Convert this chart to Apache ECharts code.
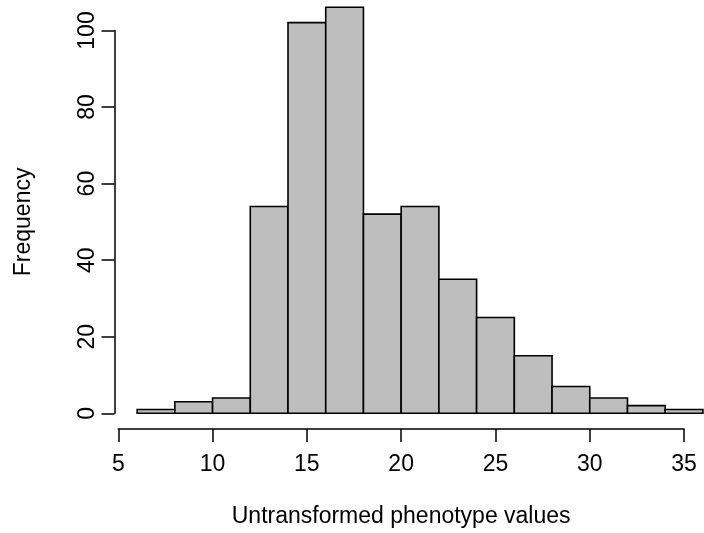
<!DOCTYPE html>
<html>
<head>
<meta charset="utf-8">
<script src="https://cdn.jsdelivr.net/npm/echarts@6/dist/echarts.min.js"></script>
<style>html,body{margin:0;padding:0;background:#fff}#c{width:704px;height:533px}</style>
</head>
<body>
<div id="c"></div>
<script>
// Histogram bins (left edges), bin width 2
const binStarts = [6, 8, 10, 12, 14, 16, 18, 20, 22, 24, 26, 28, 30, 32, 34];
const binWidth = 2;
const counts = [1, 3, 4, 54, 102, 106, 52, 54, 35, 25, 15, 7, 4, 2, 1];
const xTicks = [5, 10, 15, 20, 25, 30, 35];
const yTicks = [0, 20, 40, 60, 80, 100];
const xTitle = 'Untransformed phenotype values';
const yTitle = 'Frequency';

const FONT = '"Liberation Sans", Arial, Helvetica, sans-serif';
const FS = 23;
const chart = echarts.init(document.getElementById('c'), null, {renderer: 'canvas'});

const data = binStarts.map((s, i) => [s, s + binWidth, counts[i]]);

chart.setOption({
  animation: false,
  backgroundColor: '#ffffff',
  grid: [
    {left: 114.5, right: 0, top: 0, height: 429.5},
    {left: 118.3, width: 565.7, top: 0, height: 430},
    {left: 114.5, width: 100, top: 30.5, height: 382.8}
  ],
  xAxis: [
    {gridIndex: 0, type: 'value', min: 4.8, max: 36.057, show: false},
    {gridIndex: 1, type: 'value', min: xTicks[0], max: xTicks[xTicks.length - 1], interval: 5,
      position: 'bottom',
      axisLine: {show: true, lineStyle: {color: '#000', width: 1.5}},
      axisTick: {show: true, length: 13, lineStyle: {color: '#000', width: 1.5}},
      axisLabel: {color: '#000', fontSize: FS, fontFamily: FONT, margin: 24},
      splitLine: {show: false},
      name: xTitle, nameLocation: 'middle', nameGap: 76,
      nameTextStyle: {color: '#000', fontSize: FS, fontFamily: FONT}
    },
    {gridIndex: 2, type: 'value', show: false}
  ],
  yAxis: [
    {gridIndex: 0, type: 'value', min: -4.24, max: 107.9, show: false},
    {gridIndex: 1, type: 'value', show: false},
    {gridIndex: 2, type: 'value', min: yTicks[0], max: yTicks[yTicks.length - 1], interval: 20,
      position: 'left',
      axisLine: {show: true, lineStyle: {color: '#000', width: 1.5}},
      axisTick: {show: true, length: 13, lineStyle: {color: '#000', width: 1.5}},
      axisLabel: {color: '#000', fontSize: FS, fontFamily: FONT, rotate: 90, margin: 15},
      splitLine: {show: false},
      name: yTitle, nameLocation: 'middle', nameGap: 79, nameRotate: 90,
      nameTextStyle: {color: '#000', fontSize: FS, fontFamily: FONT}
    }
  ],
  series: [{
    type: 'custom',
    xAxisIndex: 0, yAxisIndex: 0,
    data: data,
    clip: false,
    renderItem: function (params, api) {
      const p0 = api.coord([api.value(0), 0]);
      const p1 = api.coord([api.value(1), api.value(2)]);
      return {
        type: 'rect',
        shape: {x: p0[0], y: p1[1], width: p1[0] - p0[0], height: p0[1] - p1[1]},
        style: {fill: '#bebebe', stroke: '#000', lineWidth: 1.6}
      };
    }
  }]
});
</script>
</body>
</html>
